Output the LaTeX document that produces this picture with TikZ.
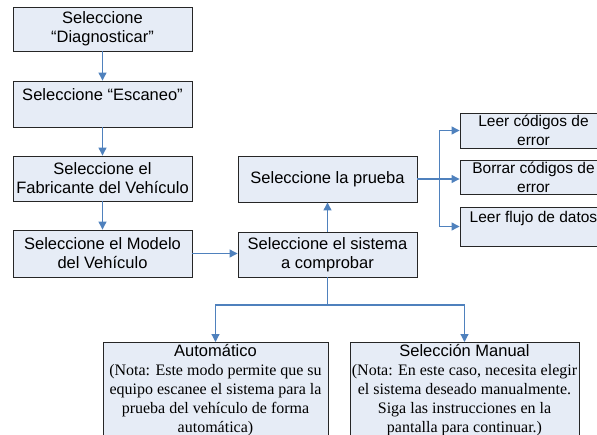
\documentclass[tikz,border=0pt]{standalone}
\usepackage{fontspec}
\setmainfont{Liberation Sans}
\newfontfamily\notefont{Liberation Serif}
\usetikzlibrary{arrows.meta}
\definecolor{boxfill}{HTML}{E6ECF6}
\definecolor{linkblue}{HTML}{4F81BD}
\newcommand\notetext{\notefont\fontsize{16}{19}\selectfont}
\begin{document}
\begin{tikzpicture}[x=1pt,y=-1pt,
  box/.style={draw=black!85, line width=0.9pt, fill=boxfill, align=center, inner sep=0pt,
    font=\fontsize{16.5}{19}\selectfont},
  sidebox/.style={box, minimum width=147pt, font=\fontsize{15.5}{19}\selectfont},
  notebox/.style={box, anchor=north, inner ysep=2pt},
  line/.style={draw=linkblue, line width=1.2pt},
  link/.style={line, -{Triangle[length=8pt,width=8pt]}}]
\useasboundingbox (0,0) rectangle (597,434);
\clip (0,0) rectangle (597,434);
\node[box, minimum width=179pt, minimum height=44pt] (diag) at (102.5,29) {Seleccione\\“Diagnosticar”};
\node[box, minimum width=179pt, minimum height=46pt] (esc) at (102.5,104) {Seleccione “Escaneo”\\\phantom{X}};
\node[box, minimum width=179pt, minimum height=45pt] (fab) at (102.5,178.5) {Seleccione el\\Fabricante del Vehículo};
\node[box, minimum width=179pt, minimum height=47pt] (mod) at (102.5,253.5) {Seleccione el Modelo\\del Vehículo};
\node[box, minimum width=179pt, minimum height=45pt] (sis) at (327.5,254.5) {Seleccione el sistema\\a comprobar};
\node[box, minimum width=179pt, minimum height=46pt] (pru) at (327.5,179) {Seleccione la prueba};
\node[sidebox, minimum height=35pt] (rA) at (533.5,130.5) {Leer códigos de\\error};
\node[sidebox, minimum height=34pt] (rB) at (533.5,177) {Borrar códigos de\\error};
\node[sidebox, minimum height=39pt] (rC) at (533.5,226.5) {Leer flujo de datos\\\phantom{X}};
\node[notebox, minimum width=225pt] (auto) at (215.5,342) {Automático\\
  \notetext (Nota: Este modo permite que su\\
  \notetext equipo escanee el sistema para la\\
  \notetext prueba del vehículo de forma\\
  \notetext automática)\\ \phantom{X}};
\node[notebox, minimum width=229pt] (man) at (464.5,342) {Selección Manual\\
  \notetext (Nota: En este caso, necesita elegir\\
  \notetext el sistema deseado manualmente.\\
  \notetext Siga las instrucciones en la\\
  \notetext pantalla para continuar.)\\ \phantom{X}};
\draw[link] (diag) -- (esc);
\draw[link] (esc) -- (fab);
\draw[link] (fab) -- (mod);
\draw[link] (mod.east) -- (mod.east -| sis.west);
\draw[link] (sis) -- (pru);
\draw[link] (pru.east) -- ++(22,0) |- (rA);
\draw[link] (pru.east) -- (pru.east -| rB.west);
\draw[link] (pru.east) -- ++(22,0) |- (rC);
\coordinate (split) at (327.5,305);
\draw[line] (sis.south) -- (split);
\draw[link] (split) -| (auto);
\draw[link] (split) -| (man);
\end{tikzpicture}
\end{document}
